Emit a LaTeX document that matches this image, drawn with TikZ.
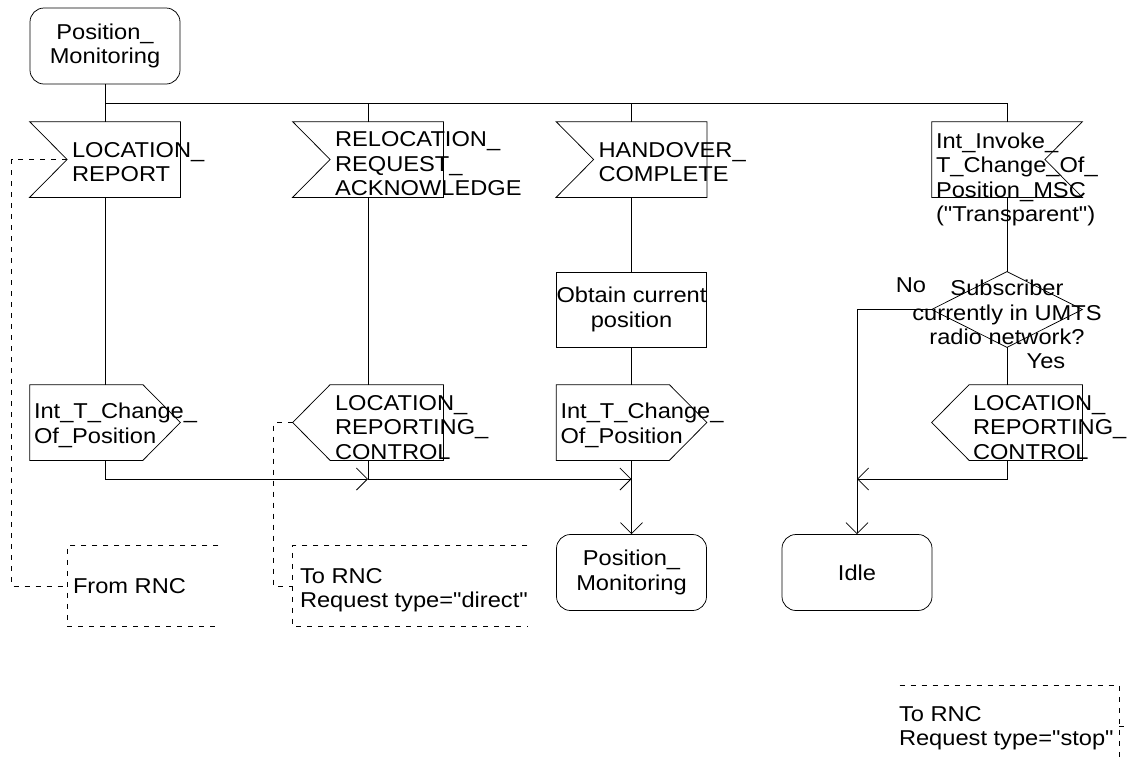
\documentclass[tikz,border=0pt]{standalone}
\usepackage{fontspec}
\setmainfont{Liberation Sans}[FakeStretch=1.1,Ligatures=TeXOff]
\usetikzlibrary{arrows.meta}
\newcommand{\sdlfont}{\fontsize{21.5}{24.5}\selectfont}
\newcommand{\sdltxt}[3]{\makebox[0pt][l]{\hspace*{#1}\smash{\raisebox{#2}{\begin{tabular}{@{}l@{}}#3\end{tabular}}}}}
\newcommand{\sdlmid}[2]{\makebox[0pt]{\smash{\raisebox{#1}{\begin{tabular}{@{}c@{}}#2\end{tabular}}}}}
\tikzset{
  sdl/.style={minimum width=150pt,minimum height=75pt,inner sep=0pt,font=\sdlfont},
  statebox/.style={sdl,minimum height=76pt,draw,rounded corners=14pt,align=center},
  taskbox/.style={sdl,draw,align=center},
  inbox/.style={sdl,append after command={\pgfextra{\draw (\tikzlastnode.north west) -- (\tikzlastnode.north east) -- (\tikzlastnode.south east) -- (\tikzlastnode.south west) -- ([xshift=37.5pt]\tikzlastnode.west) -- cycle;}}},
  outbox/.style={sdl,append after command={\pgfextra{\draw (\tikzlastnode.north west) -- ([xshift=-37.5pt]\tikzlastnode.north east) -- (\tikzlastnode.east) -- ([xshift=-37.5pt]\tikzlastnode.south east) -- (\tikzlastnode.south west) -- cycle;}}},
  backbox/.style={sdl,append after command={\pgfextra{\draw (\tikzlastnode.west) -- ([xshift=37.5pt]\tikzlastnode.north west) -- (\tikzlastnode.north east) -- (\tikzlastnode.south east) -- ([xshift=37.5pt]\tikzlastnode.south west) -- cycle;}}},
  intbox/.style={sdl,append after command={\pgfextra{\draw (\tikzlastnode.north west) -- (\tikzlastnode.north east) -- ([xshift=-37.5pt]\tikzlastnode.east) -- (\tikzlastnode.south east) -- (\tikzlastnode.south west) -- cycle;}}},
  decbox/.style={sdl,append after command={\pgfextra{\draw (\tikzlastnode.north) -- (\tikzlastnode.east) -- (\tikzlastnode.south) -- (\tikzlastnode.west) -- cycle;}}},
  cmtline/.style={dash pattern=on 5pt off 6pt},
  cmtl/.style={sdl,minimum height=80pt,append after command={\pgfextra{\draw[cmtline] (\tikzlastnode.north east) -- (\tikzlastnode.north west) -- (\tikzlastnode.south west) -- (\tikzlastnode.south east);}}},
  cmtr/.style={sdl,minimum height=80pt,append after command={\pgfextra{\draw[cmtline] (\tikzlastnode.north west) -- (\tikzlastnode.north east) -- (\tikzlastnode.south east) -- (\tikzlastnode.south west);}}},
  arr/.style={-{Straight Barb[length=11pt,width=22pt]}}
}
\begin{document}
\begin{tikzpicture}[x=1pt,y=-1pt,line width=0.75pt]
\useasboundingbox (0,0) rectangle (1131,756);
\clip (0,0) rectangle (1131,756);
\node[statebox] (pm0) at (105,46) {Position\_\\Monitoring};
\node[inbox] (lrep) at (105,159.5) {\sdltxt{-33pt}{-10.5pt}{LOCATION\_\\REPORT}};
\node[inbox] (relo) at (368,159.5) {\sdltxt{-33pt}{-12pt}{RELOCATION\_\\REQUEST\_\\ACKNOWLEDGE}};
\node[inbox] (hand) at (631.5,159.5) {\sdltxt{-33pt}{-10.5pt}{HANDOVER\_\\COMPLETE}};
\node[intbox] (invk) at (1007,159.5) {\sdltxt{-71pt}{-26pt}{Int\_Invoke\_\\T\_Change\_Of\_\\Position\_MSC\\("Transparent")}};
\node[taskbox] (obt) at (631.5,309.5) {Obtain current\\position};
\node[decbox] (dec) at (1007,309.5) {\sdlmid{-11pt}{Subscriber\\currently in UMTS\\radio network?}};
\node[outbox] (itc1) at (105,422.5) {\sdltxt{-71pt}{-9pt}{Int\_T\_Change\_\\Of\_Position}};
\node[backbox] (lrc1) at (368,422.5) {\sdltxt{-33pt}{-12.5pt}{LOCATION\_\\REPORTING\_\\CONTROL}};
\node[outbox] (itc2) at (631.5,422.5) {\sdltxt{-71pt}{-9pt}{Int\_T\_Change\_\\Of\_Position}};
\node[backbox] (lrc2) at (1007,422.5) {\sdltxt{-34pt}{-12.5pt}{LOCATION\_\\REPORTING\_\\CONTROL}};
\node[statebox] (pm1) at (631.5,572.5) {Position\_\\Monitoring};
\node[statebox] (idle) at (857,572.5) {Idle};
\node[cmtl] (frnc) at (143,586) {\sdltxt{-70pt}{-8pt}{From RNC}};
\node[cmtl,minimum width=234pt] (trd) at (410,586) {\sdltxt{-110pt}{-10pt}{To RNC\\Request type="direct"}};
\node[cmtr,minimum width=219pt] (tstop) at (1009.5,726) {\sdltxt{-110.5pt}{-8pt}{To RNC\\Request type="stop"}};
\node[font=\sdlfont,inner sep=0pt,anchor=base] (no) at (911,292) {No};
\node[font=\sdlfont,inner sep=0pt,anchor=base] (yes) at (1046,368) {Yes};
\coordinate (split) at (105,103);
\coordinate (j1) at (368,479);
\coordinate (j2) at (631.5,479);
\coordinate (j3) at (857,479);
\draw (pm0) -- (lrep);
\draw (split) -| (invk.north);
\draw (split -| relo.north) -- (relo);
\draw (split -| hand.north) -- (hand);
\draw (lrep) -- (itc1);
\draw (relo) -- (lrc1);
\draw (hand) -- (obt);
\draw (obt) -- (itc2);
\draw (invk) -- (dec);
\draw (dec) -- (lrc2);
\draw[arr] (itc1.south) |- (j1);
\draw (lrc1.south) -- (j1);
\draw[arr] (j1) -- (j2);
\draw (itc2.south) -- (j2);
\draw[arr] (j2) -- (pm1);
\draw (dec.west) -| (j3);
\draw[arr] (lrc2.south) |- (j3);
\draw[arr] (j3) -- (idle);
\draw[cmtline] ([xshift=37.5pt]lrep.west) -- ++(-55.5,0) |- (frnc.west);
\draw[cmtline] (lrc1.west) -- ++(-19,0) |- (trd.west);
\draw[cmtline] (tstop.east) -- ++(8,0);
\end{tikzpicture}
\end{document}
